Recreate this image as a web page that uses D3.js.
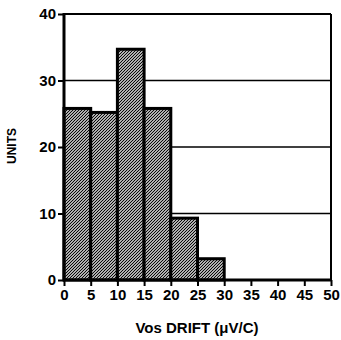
<!DOCTYPE html>
<html>
<head>
<meta charset="utf-8">
<script src="https://cdn.jsdelivr.net/npm/d3@7"></script>
<style>
  body { margin: 0; background: #fff; }
  text { font-family: "Liberation Sans", Arial, sans-serif; font-weight: bold; fill: #000; }
</style>
</head>
<body>
<div id="vis"></div>
<script>
// histogram bins (lower edge, uV/C) and unit counts
var binStarts = [0, 5, 10, 15, 20, 25];
var binWidth = 5;
var counts = [25.8, 25.2, 34.7, 25.8, 9.3, 3.2];
var xTicks = [0, 5, 10, 15, 20, 25, 30, 35, 40, 45, 50];
var yTicks = [0, 10, 20, 30, 40];
var gridValues = [10, 20, 30];

var width = 341;
var height = 340;
var margin = {left: 64, right: 10, top: 14, bottom: 60};

var x = d3.scaleLinear().domain([0, 50]).range([margin.left, width - margin.right]);
var y = d3.scaleLinear().domain([0, 40]).range([height - margin.bottom, margin.top]);

var svg = d3.select('#vis').append('svg')
    .attr('width', width)
    .attr('height', height);

// dense diagonal hatch for the bars
var pattern = svg.append('defs').append('pattern')
    .attr('id', 'hatch')
    .attr('patternUnits', 'userSpaceOnUse')
    .attr('width', 3)
    .attr('height', 3);
pattern.append('rect').attr('width', 3).attr('height', 3).attr('fill', '#fff');
pattern.append('path')
    .attr('d', 'M-1,1 L1,-1 M0,3 L3,0 M2,4 L4,2')
    .attr('stroke', '#000').attr('stroke-width', 1.2);

// grid lines
svg.selectAll('.grid')
    .data(gridValues)
    .enter().append('line')
    .attr('class', 'grid')
    .attr('x1', x(0)).attr('x2', x(50))
    .attr('y1', function (d) { return y(d); })
    .attr('y2', function (d) { return y(d); })
    .attr('stroke', '#000')
    .attr('stroke-width', 1.5);

// bars
svg.selectAll('.bar')
    .data(binStarts)
    .enter().append('rect')
    .attr('class', 'bar')
    .attr('x', function (d) { return x(d); })
    .attr('width', function (d) { return x(d + binWidth) - x(d); })
    .attr('y', function (d, i) { return y(counts[i]); })
    .attr('height', function (d, i) { return y(0) - y(counts[i]); })
    .attr('fill', 'url(#hatch)')
    .attr('stroke', '#000')
    .attr('stroke-width', 3);

// frame
svg.append('line').attr('x1', x(0)).attr('x2', x(50)).attr('y1', y(40)).attr('y2', y(40))
    .attr('stroke', '#000').attr('stroke-width', 2.2);
svg.append('line').attr('x1', x(50)).attr('x2', x(50)).attr('y1', y(40)).attr('y2', y(0))
    .attr('stroke', '#000').attr('stroke-width', 2);
svg.append('line').attr('x1', x(0)).attr('x2', x(0)).attr('y1', y(40) - 1).attr('y2', y(0) + 1)
    .attr('stroke', '#000').attr('stroke-width', 3);
svg.append('line').attr('x1', x(0) - 1).attr('x2', x(50) + 1).attr('y1', y(0)).attr('y2', y(0))
    .attr('stroke', '#000').attr('stroke-width', 3);

// axes
var yAxis = svg.append('g')
    .attr('transform', 'translate(' + x(0) + ',0)')
    .call(d3.axisLeft(y).tickValues(yTicks).tickSize(6).tickPadding(2).tickFormat(d3.format('d')));
var xAxis = svg.append('g')
    .attr('transform', 'translate(0,' + y(0) + ')')
    .call(d3.axisBottom(x).tickValues(xTicks).tickSize(6).tickPadding(3).tickFormat(d3.format('d')));

[yAxis, xAxis].forEach(function (ax) {
    ax.select('.domain').remove();
    ax.selectAll('.tick line').attr('stroke', '#000').attr('stroke-width', 2);
    ax.selectAll('.tick text')
        .style('font-family', '"Liberation Sans", Arial, sans-serif')
        .style('font-weight', 'bold')
        .style('font-size', '15px')
        .attr('fill', '#000');
});

// titles
svg.append('text')
    .attr('transform', 'translate(16,146) rotate(-90)')
    .attr('text-anchor', 'middle')
    .style('font-size', '12px')
    .text('UNITS');

svg.append('text')
    .attr('x', 197)
    .attr('y', 333)
    .attr('text-anchor', 'middle')
    .style('font-size', '15px')
    .text('Vos DRIFT (\u03BCV/C)');
</script>
</body>
</html>
